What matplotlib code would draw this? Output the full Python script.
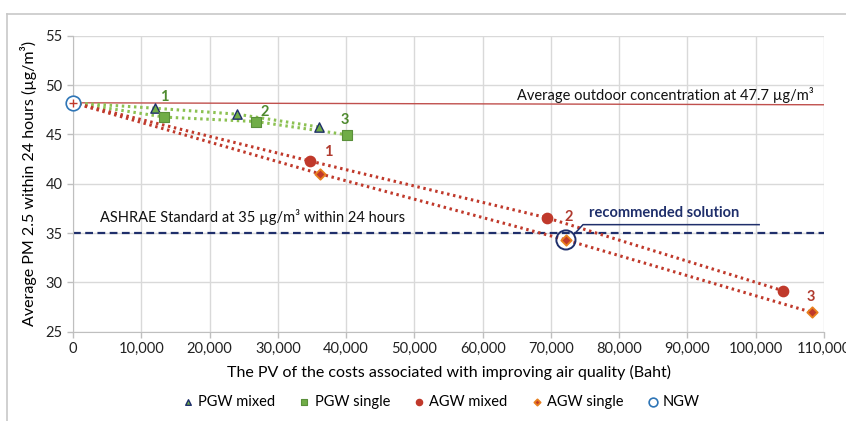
import matplotlib
matplotlib.use("Agg")
import matplotlib.pyplot as plt
from matplotlib.lines import Line2D

plt.rcParams['font.family'] = ['Lato', 'DejaVu Sans']

# NGW reference point (no green wall)
ngw_x = [0]
ngw_y = [48.2]

# PGW / AGW scenarios 1-3
pgw_mixed_x = [12000, 24000, 36000]
pgw_mixed_y = [47.65, 47.05, 45.75]
pgw_single_x = [13400, 26800, 40200]
pgw_single_y = [46.75, 46.3, 44.95]
agw_mixed_x = [34700, 69400, 104000]
agw_mixed_y = [42.3, 36.55, 29.15]
agw_single_x = [36200, 72200, 108300]
agw_single_y = [41.0, 34.3, 26.95]
scenario_labels = ["1", "2", "3"]

outdoor_x = [0, 110000]
outdoor_y = [48.2, 48.0]
ashrae_level = 35

xticks = list(range(0, 110001, 10000))
yticks = [25, 30, 35, 40, 45, 50, 55]

green = "#70AD47"
green_line = "#8CC152"
green_txt = "#4E8A2E"
red = "#C0392B"
red_txt = "#B03A2E"
navy = "#1F2F6B"
orange = "#E8801E"
blue = "#2E75B6"

fig = plt.figure(figsize=(8.46, 4.21), dpi=100)
ax = fig.add_axes([0.0863, 0.2121, 0.8877, 0.7031])

# border of the chart area
fig.add_artist(Line2D([7 / 846, 7 / 846], [0, 1 - 14 / 421], color="#C8C8C8", lw=1.2, transform=fig.transFigure))
fig.add_artist(Line2D([7 / 846, 1], [1 - 14 / 421, 1 - 14 / 421], color="#C8C8C8", lw=1.2, transform=fig.transFigure))

# reference lines
ax.plot(outdoor_x, outdoor_y, color="#C0504D", lw=1.0, zorder=2)
ax.axhline(ashrae_level, color=navy, lw=1.6, ls=(0, (3.5, 2)), zorder=2)

# dotted trend lines from NGW
for xs, ys, c in [(pgw_mixed_x, pgw_mixed_y, green_line), (pgw_single_x, pgw_single_y, green_line),
                  (agw_mixed_x, agw_mixed_y, red), (agw_single_x, agw_single_y, red)]:
    ax.plot(ngw_x + xs, ngw_y + ys, color=c, lw=2.2, ls=(0, (0.8, 1.2)), zorder=3)

# markers
ax.scatter(pgw_mixed_x, pgw_mixed_y, marker="^", s=45, color=green, edgecolor=navy, lw=1.0, zorder=5, label="PGW mixed")
ax.scatter(pgw_single_x, pgw_single_y, marker="s", s=55, color=green, edgecolor="#5A8F3A", lw=0.8, zorder=5, label="PGW single")
ax.scatter(agw_mixed_x, agw_mixed_y, marker="o", s=55, color=red, edgecolor=red, zorder=5, label="AGW mixed")
ax.scatter(agw_single_x, agw_single_y, marker="D", s=28, color=red, edgecolor=orange, lw=1.3, zorder=5, label="AGW single")
ax.scatter(ngw_x, ngw_y, marker="o", s=110, facecolor="white", edgecolor=blue, lw=1.2, zorder=6, label="NGW",
           clip_on=False)
ax.plot(ngw_x, ngw_y, marker="+", color=red, ms=6, mew=1, zorder=7, clip_on=False)

# scenario numbers
green_off = [(0, 14.8), (6.5, 7.2), (-2.2, 10.8)]
red_off = [(6, 15.4), (1.7, 16.8), (-1.2, 11.2)]
for i, lab in enumerate(scenario_labels):
    ax.annotate(lab, (pgw_single_x[i], pgw_single_y[i]), xytext=green_off[i],
                textcoords="offset points", color=green_txt, fontsize=10.5, fontweight="bold", ha="center", va="center")
    ax.annotate(lab, (agw_single_x[i], agw_single_y[i]), xytext=red_off[i],
                textcoords="offset points", color=red_txt, fontsize=10.5, fontweight="bold", ha="center", va="center")

# recommended solution callout
ax.scatter([agw_single_x[1]], [agw_single_y[1]], marker="o", s=190, facecolor="none", edgecolor=navy, lw=1.4, zorder=6)
ax.plot([agw_single_x[1] + 1300, agw_single_x[1] + 2500, 100500], [34.95, 35.85, 35.85], color=navy, lw=1.1, zorder=6)
ax.text(86600, 37.0, "recommended solution", color=navy, fontsize=10.5, fontweight="bold", ha="center", va="center")

ax.text(4000, 36.6, "ASHRAE Standard at 35 µg/m³ within 24 hours", fontsize=10.5, ha="left", va="center", color="#111111")
ax.text(108500, 49.0, "Average outdoor concentration at 47.7 µg/m³", fontsize=10.5, ha="right", va="center", color="#111111")

ax.set_xlim(0, 110000)
ax.set_ylim(25, 55)
ax.set_xticks(xticks)
ax.set_xticklabels([f"{v:,}" for v in xticks])
ax.set_yticks(yticks)
ax.tick_params(labelsize=10.5, colors="#BFBFBF", labelcolor="#222222", length=4, width=1)
ax.grid(True, color="#D9D9D9", lw=1)
ax.set_axisbelow(True)
for s in ["top", "right"]:
    ax.spines[s].set_visible(False)
for s in ["left", "bottom"]:
    ax.spines[s].set_color("#BFBFBF")

ax.set_xlabel("The PV of the costs associated with improving air quality (Baht)", fontsize=11.5, labelpad=6)
ax.set_ylabel("Average PM 2.5 within 24 hours (µg/m³)", fontsize=11.5, labelpad=6)

ax.legend(loc="center", bbox_to_anchor=(0.49, -0.237), ncol=5, frameon=False, fontsize=10.5,
          handlelength=0.8, handletextpad=0.3, columnspacing=1.6, markerscale=0.6)

fig.savefig("out.png", dpi=100)
